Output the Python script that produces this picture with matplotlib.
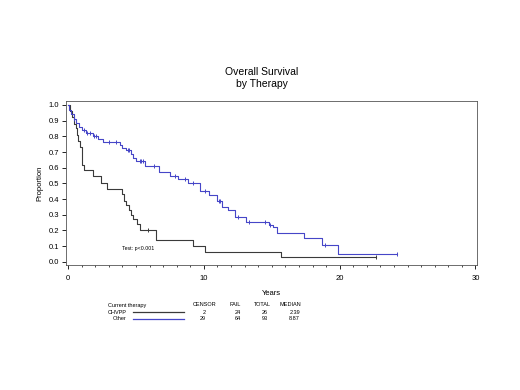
import numpy as np
import matplotlib
matplotlib.use("Agg")
import matplotlib.pyplot as plt
from matplotlib.ticker import MultipleLocator

plt.rcParams["font.family"] = ["Liberation Sans", "DejaVu Sans"]

# KM steps: (time, survival after step)
chvpp_t = [0, 0.15, 0.3, 0.45, 0.55, 0.65, 0.75, 0.85, 1.0, 1.2, 1.8, 2.45, 2.9,
           4.0, 4.15, 4.3, 4.45, 4.6, 4.8, 5.05, 5.3, 6.5, 9.2, 10.1, 15.7]
chvpp_s = [1.0, 0.96, 0.92, 0.88, 0.85, 0.81, 0.77, 0.73, 0.62, 0.585, 0.55, 0.50, 0.465,
           0.43, 0.39, 0.36, 0.33, 0.30, 0.27, 0.24, 0.204, 0.14, 0.10, 0.064, 0.03]
chvpp_end = 22.7
chvpp_cens = [5.9, 22.7]

other_t = [0, 0.1, 0.25, 0.4, 0.55, 0.8, 1.0, 1.3, 1.8, 2.2, 2.6, 3.8, 4.0, 4.3, 4.6,
           4.75, 5.0, 5.7, 6.7, 7.5, 8.1, 8.8, 9.7, 10.4, 11.0, 11.3, 11.8, 12.3,
           13.1, 14.8, 15.1, 15.4, 17.4, 18.7, 19.9]
other_s = [1.0, 0.97, 0.94, 0.91, 0.885, 0.86, 0.84, 0.82, 0.80, 0.785, 0.765, 0.745,
           0.725, 0.71, 0.685, 0.66, 0.64, 0.61, 0.575, 0.545, 0.525, 0.50, 0.45, 0.425,
           0.39, 0.35, 0.33, 0.285, 0.255, 0.235, 0.22, 0.185, 0.153, 0.11, 0.05]
other_end = 24.2
other_cens = [0.45, 1.2, 1.4, 1.6, 1.9, 2.05, 3.0, 3.5, 4.4, 4.5, 5.3, 5.4, 5.5, 6.3,
              7.9, 8.6, 9.2, 10.1, 11.1, 11.2, 12.5, 13.3, 14.5, 14.9, 18.9, 24.2]

groups = ["CHVPP", "Other"]
censor = [2, 29]
fail = [24, 64]
total = [26, 93]
median = ["2.39", "8.87"]

c_black = "#3a3a3a"
c_blue = "#4646c8"


def step_at(times, surv, x):
    idx = np.searchsorted(times, x, side="right") - 1
    return np.array(surv)[idx]


fig = plt.figure(figsize=(5.2, 3.9), dpi=100)
ax = fig.add_axes([0.127, 0.3205, 0.790, 0.4205])

for t, s, end, cens, col in [(chvpp_t, chvpp_s, chvpp_end, chvpp_cens, c_black),
                             (other_t, other_s, other_end, other_cens, c_blue)]:
    tt = list(t) + [end]
    ss = list(s) + [s[-1]]
    ax.step(tt, ss, where="post", color=col, lw=0.8)
    cx = np.array(cens)
    ax.plot(cx, step_at(t, s, cx), ls="none", marker="|", ms=3, mew=0.7, color=col)

ax.text(4.0, 0.083, "Test: p<0.001", fontsize=3.8, va="center")

ax.set_xlim(-0.15, 30.1)
ax.set_ylim(-0.02, 1.025)
ax.xaxis.set_major_locator(MultipleLocator(10))
ax.xaxis.set_minor_locator(MultipleLocator(1))
ax.yaxis.set_major_locator(MultipleLocator(0.1))
ax.yaxis.set_major_formatter(matplotlib.ticker.FormatStrFormatter("%.1f"))
ax.tick_params(which="major", direction="out", length=3, width=0.6, labelsize=5.5, pad=2)
ax.tick_params(axis="x", which="major", pad=4)
ax.tick_params(which="minor", direction="out", length=1.5, width=0.5)
for sp in ax.spines.values():
    sp.set_linewidth(0.6)
    sp.set_color("#555555")
ax.set_xlabel("Years", fontsize=5.5, labelpad=6)
ax.set_ylabel("Proportion", fontsize=5.5, labelpad=4)

fig.text(0.504, 0.815, "Overall Survival", ha="center", va="center", fontsize=7.5)
fig.text(0.504, 0.784, "by Therapy", ha="center", va="center", fontsize=7.5)

# legend table under the plot
fs = 4
W, H = 520.0, 390.0
fig.text(108 / W, 1 - 305 / H, "Current therapy", fontsize=fs, va="center")
heads = ["CENSOR", "FAIL", "TOTAL", "MEDIAN"]
head_x = [205, 235, 262, 290]
val_x = [206, 241, 268, 300]
for h, x in zip(heads, head_x):
    fig.text(x / W, 1 - 305 / H, h, fontsize=fs, va="center", ha="center")
rows_y = [312, 319]
for i, (g, col) in enumerate(zip(groups, [c_black, c_blue])):
    y = 1 - rows_y[i] / H
    fig.text((108 if i == 0 else 113) / W, y, g, fontsize=fs, va="center")
    fig.add_artist(plt.Line2D([133 / W, 184 / W], [y, y], color=col, lw=0.9))
    vals = [str(censor[i]), str(fail[i]), str(total[i]), median[i]]
    for v, x in zip(vals, val_x):
        fig.text(x / W, y, v, fontsize=fs, va="center", ha="right")

fig.savefig("out.png", dpi=100)
